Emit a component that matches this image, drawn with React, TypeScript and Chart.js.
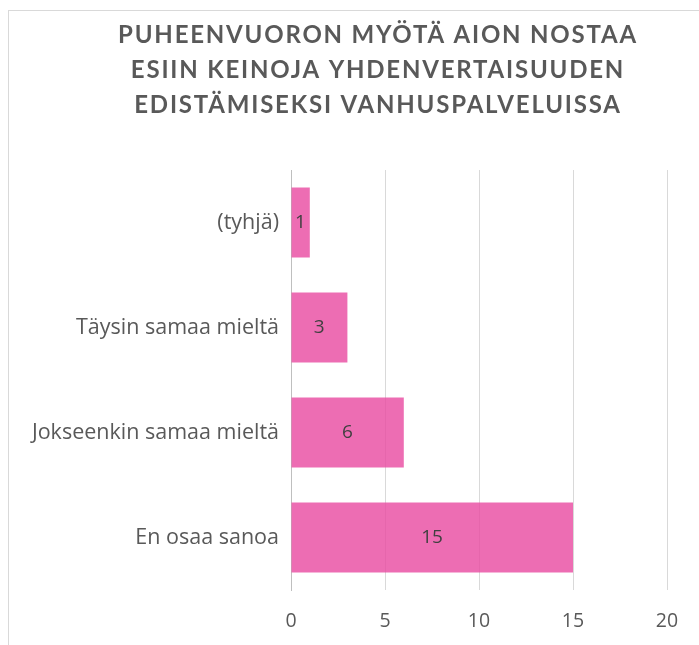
import React, { useEffect, useRef } from "react";
import { Chart, registerables } from "chart.js";

Chart.register(...registerables);

const titleLines = [
  "PUHEENVUORON MYÖTÄ AION NOSTAA",
  "ESIIN KEINOJA YHDENVERTAISUUDEN",
  "EDISTÄMISEKSI VANHUSPALVELUISSA",
];
const categories = [
  "(tyhjä)",
  "Täysin samaa mieltä",
  "Jokseenkin samaa mieltä",
  "En osaa sanoa",
];
const values = [1, 3, 6, 15];
const xTicks = [0, 5, 10, 15, 20];

const CW = 738;
const CH = 660;

const titlePlugin = {
  id: "customTitle",
  afterDraw(chart: any) {
    const ctx = chart.ctx;
    ctx.save();
    ctx.font = "bold 24px Lato";
    (ctx as any).letterSpacing = "1.8px";
    ctx.fillStyle = "#595959";
    ctx.textAlign = "center";
    ctx.textBaseline = "middle";
    titleLines.forEach((l, i) => {
      ctx.fillText(l, CW / 2, 24 + i * 35);
    });
    ctx.restore();
  },
};

const labelPlugin = {
  id: "barLabels",
  afterDatasetsDraw(chart: any) {
    const ctx = chart.ctx;
    const meta = chart.getDatasetMeta(0);
    ctx.save();
    ctx.font = "19px 'Open Sans'";
    ctx.fillStyle = "#404040";
    ctx.textAlign = "center";
    ctx.textBaseline = "middle";
    meta.data.forEach((bar: any, i: number) => {
      const x0 = chart.scales.x.getPixelForValue(0);
      ctx.fillText(String(values[i]), (bar.x + x0) / 2, bar.y);
    });
    ctx.restore();
  },
};

export default function App() {
  const ref = useRef<HTMLCanvasElement>(null);
  useEffect(() => {
    if (!ref.current) return;
    const chart = new Chart(ref.current, {
      type: "bar",
      data: {
        labels: categories,
        datasets: [
          {
            data: values,
            backgroundColor: "rgba(232,72,160,0.8)",
            barPercentage: 0.667,
            categoryPercentage: 1,
          },
        ],
      },
      options: {
        indexAxis: "y",
        responsive: false,
        animation: false,
        devicePixelRatio: 1,
        layout: { padding: { top: 159, right: 80, left: 0, bottom: 0 } },
        plugins: {
          legend: { display: false },
          title: { display: false },
          tooltip: { enabled: false },
        },
        scales: {
          x: {
            min: 0,
            max: 20,
            afterBuildTicks: (s: any) => {
              s.ticks = xTicks.map((v) => ({ value: v }));
            },
            afterFit: (s: any) => {
              s.height = 81;
            },
            grid: { color: "#d9d9d9", drawTicks: false },
            border: { display: false },
            ticks: {
              font: { family: "'Open Sans'", size: 19.5 },
              color: "#595959",
              padding: 20,
            },
          },
          y: {
            afterFit: (s: any) => {
              s.width = 282;
            },
            grid: { display: false },
            border: { display: true, color: "#bfbfbf", width: 1 },
            ticks: {
              font: { family: "'Open Sans'", size: 21.5 },
              color: "#595959",
              padding: 4,
            },
          },
        },
      },
      plugins: [titlePlugin, labelPlugin],
    });
    return () => chart.destroy();
  }, []);
  return (
    <div
      style={{
        position: "absolute",
        left: 0,
        top: 0,
        width: 699,
        height: 645,
        overflow: "hidden",
        background: "#fff",
      }}
    >
      <div
        style={{
          position: "absolute",
          left: 8,
          top: 10,
          width: CW,
          height: CH,
          border: "1px solid #d9d9d9",
        }}
      >
        <canvas ref={ref} width={CW} height={CH} style={{ display: "block" }} />
      </div>
    </div>
  );
}
